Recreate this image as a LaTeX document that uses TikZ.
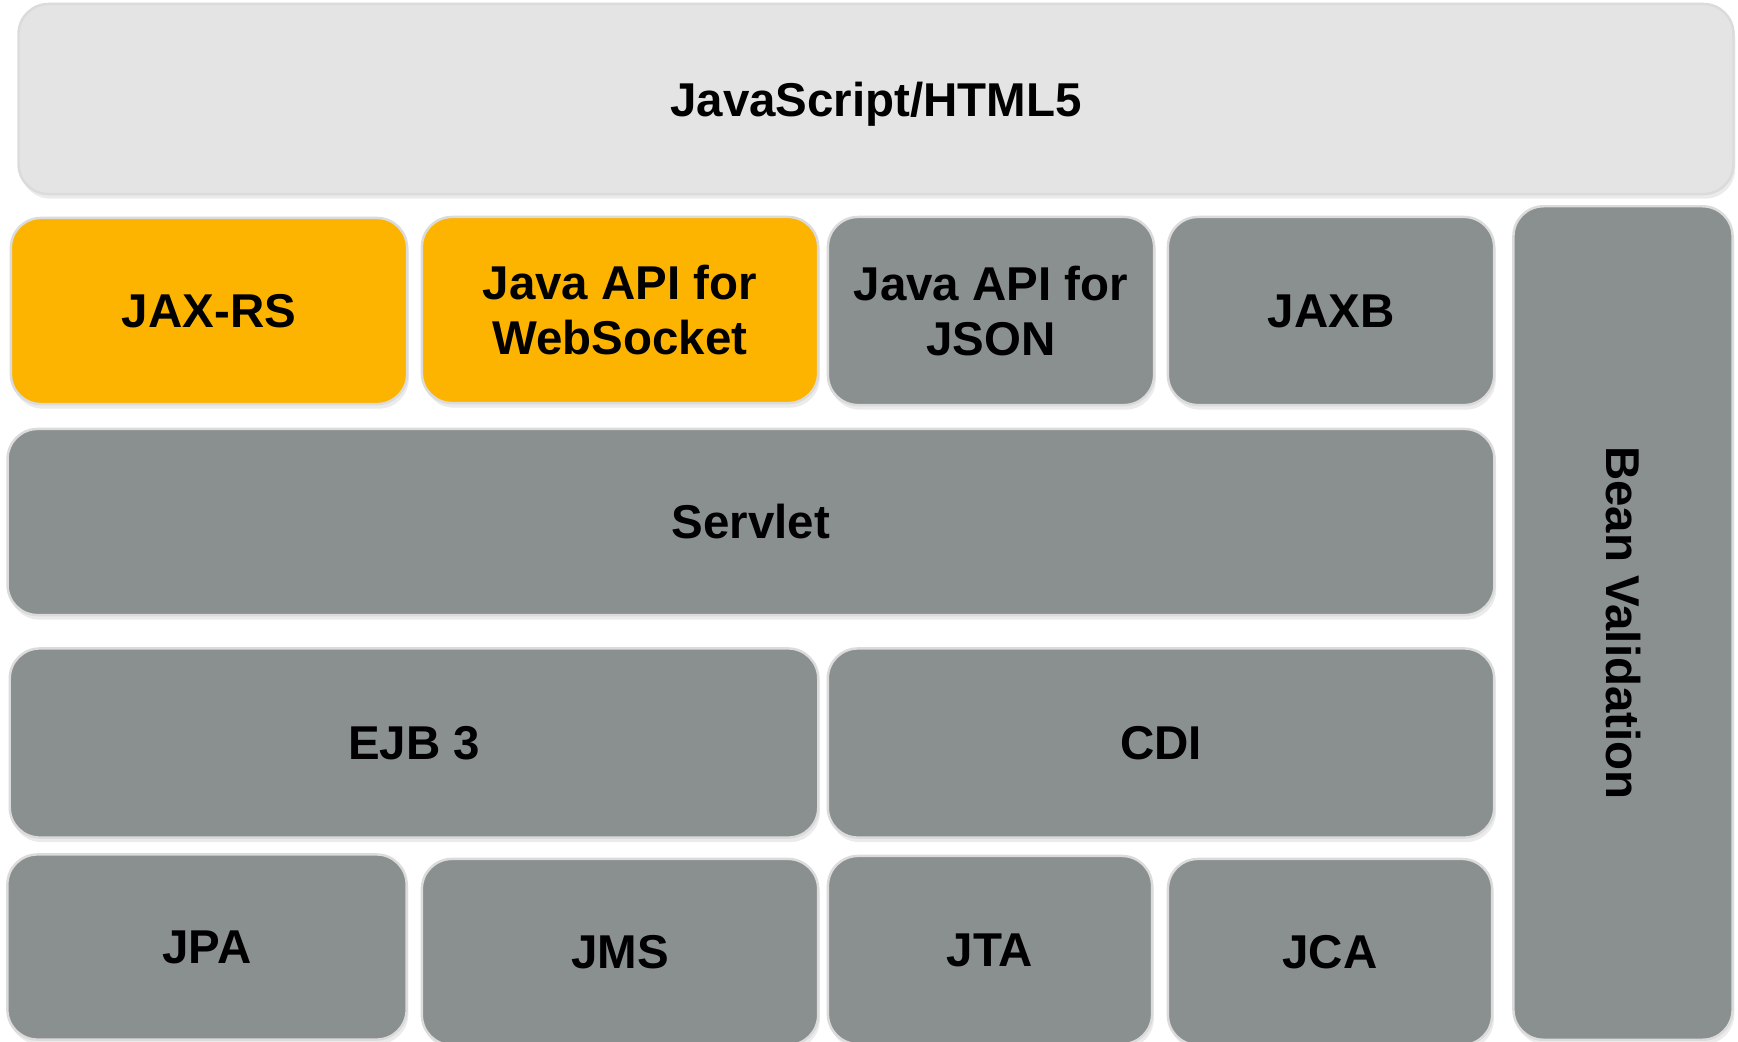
\documentclass[tikz,border=0pt]{standalone}
\usepackage{fontspec}
\setmainfont{Liberation Sans}
\usetikzlibrary{shadows}
\definecolor{jeeorange}{HTML}{FDB400}
\definecolor{jeegray}{HTML}{8A8F8F}
\definecolor{jeelight}{HTML}{E4E4E4}
\begin{document}
\begin{tikzpicture}[x=0.01cm, y=-0.01cm,
  layer/.style={rounded corners=0.3cm, draw=black!14, line width=0.7pt, fill=jeegray,
    align=center, inner sep=0pt, font=\fontsize{13.5}{15.8}\selectfont\bfseries,
    drop shadow={shadow xshift=0.5pt, shadow yshift=-1.3pt, opacity=0.16}},
  web/.style={layer, fill=jeeorange},
  client/.style={layer, fill=jeelight}]

\useasboundingbox (0,0) rectangle (1738,1042);

\node[client, text depth=0pt, minimum width=17.14cm, minimum height=1.90cm] (html) at (876,99) {JavaScript/HTML5};

\node[web, minimum width=3.96cm, minimum height=1.86cm] (jaxrs) at (209,311) {JAX-RS};
\node[web, minimum width=3.96cm, minimum height=1.86cm] (websocket) at (620,310) {Java API for\\WebSocket};
\node[layer, minimum width=3.26cm, minimum height=1.88cm] (json) at (991,311) {Java API for\\JSON};
\node[layer, minimum width=3.26cm, minimum height=1.88cm] (jaxb) at (1331,311) {JAXB};

\node[layer, minimum width=14.86cm, minimum height=1.86cm] (servlet) at (751,522) {Servlet};

\node[layer, minimum width=8.08cm, minimum height=1.89cm] (ejb) at (414,743) {EJB 3};
\node[layer, minimum width=6.66cm, minimum height=1.89cm] (cdi) at (1161,743) {CDI};

\node[layer, minimum width=3.99cm, minimum height=1.85cm] (jpa) at (207,947) {JPA};
\node[layer, minimum width=3.96cm, minimum height=1.86cm] (jms) at (620,952) {JMS};
\node[layer, minimum width=3.24cm, minimum height=1.88cm] (jta) at (990,950) {JTA};
\node[layer, minimum width=3.24cm, minimum height=1.86cm] (jca) at (1330,952) {JCA};

\node[layer, minimum width=2.19cm, minimum height=8.33cm] (beanval) at (1623,623) {};
\node[rotate=-90, font=\fontsize{13.5}{15.8}\selectfont\bfseries] (beanlabel) at (beanval.center) {Bean Validation};

\end{tikzpicture}
\end{document}
